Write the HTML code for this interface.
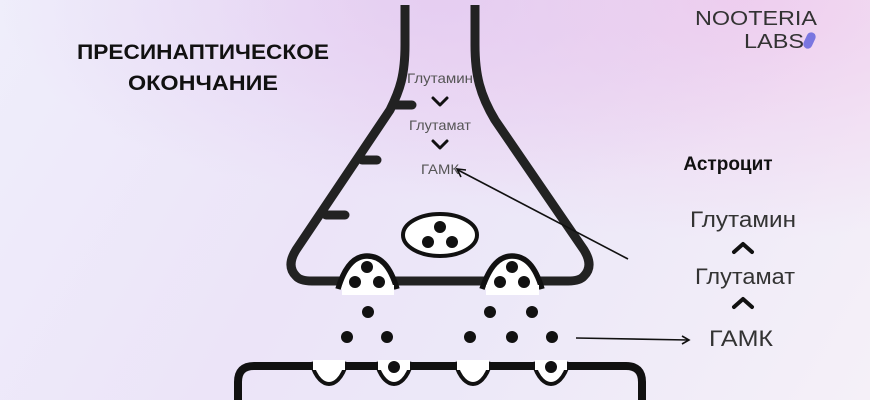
<!DOCTYPE html>
<html><head><meta charset="utf-8"><style>
html,body{margin:0;padding:0;}
body{width:870px;height:400px;overflow:hidden;background:linear-gradient(120deg,#efeefb 0%,#ece4f8 40%,#ece8f8 60%,#f5f0f8 100%);}
svg{position:absolute;left:0;top:0;}
</style></head><body>
<svg width="870" height="400" viewBox="0 0 870 400" xmlns="http://www.w3.org/2000/svg">
<defs>
<radialGradient id="pk" cx="0.85" cy="0" r="0.6">
<stop offset="0" stop-color="#f1c9ec" stop-opacity="0.8"/>
<stop offset="1" stop-color="#f1c9ec" stop-opacity="0"/>
</radialGradient>
<radialGradient id="pk2" cx="0.5" cy="0" r="0.5">
<stop offset="0" stop-color="#e2c8f0" stop-opacity="0.7"/>
<stop offset="1" stop-color="#e2c8f0" stop-opacity="0"/>
</radialGradient>
</defs>
<rect width="870" height="400" fill="url(#pk)"/>
<rect width="870" height="400" fill="url(#pk2)"/>

<g font-family="Liberation Sans, sans-serif">
<text x="203" y="59" font-size="21" font-weight="bold" text-anchor="middle" textLength="252" lengthAdjust="spacingAndGlyphs" fill="#111">ПРЕСИНАПТИЧЕСКОЕ</text>
<text x="203" y="90" font-size="21" font-weight="bold" text-anchor="middle" textLength="150" lengthAdjust="spacingAndGlyphs" fill="#111">ОКОНЧАНИЕ</text>

<text x="817" y="25" font-size="20" text-anchor="end" fill="#333" textLength="122" lengthAdjust="spacingAndGlyphs">NOOTERIA</text>
<text x="804" y="48" font-size="20" text-anchor="end" fill="#333" textLength="60" lengthAdjust="spacingAndGlyphs">LABS</text>
<rect x="805" y="32" width="9" height="17" rx="4.5" fill="#7a76e0" transform="rotate(25 809.5 40.5)"/>

<text x="440" y="83" font-size="14" text-anchor="middle" fill="#555" textLength="66" lengthAdjust="spacingAndGlyphs">Глутамин</text>
<text x="440" y="130" font-size="14" text-anchor="middle" fill="#555" textLength="62" lengthAdjust="spacingAndGlyphs">Глутамат</text>
<text x="440" y="174" font-size="14" text-anchor="middle" fill="#555" textLength="38" lengthAdjust="spacingAndGlyphs">ГАМК</text>

<text x="728" y="170" font-size="19" font-weight="bold" text-anchor="middle" fill="#111">Астроцит</text>
<text x="743" y="227" font-size="22" text-anchor="middle" fill="#333" textLength="106" lengthAdjust="spacingAndGlyphs">Глутамин</text>
<text x="745" y="284" font-size="22" text-anchor="middle" fill="#333" textLength="100" lengthAdjust="spacingAndGlyphs">Глутамат</text>
<text x="741" y="346" font-size="22" text-anchor="middle" fill="#333" textLength="64" lengthAdjust="spacingAndGlyphs">ГАМК</text>
</g>

<g fill="none" stroke="#111" stroke-linecap="round" stroke-linejoin="round">
<polyline points="433,98 440,105 447,98" stroke-width="3"/>
<polyline points="433,141 440,148 447,141" stroke-width="3"/>
<polyline points="734,252 743,244 752,252" stroke-width="4"/>
<polyline points="734,307 743,299 752,307" stroke-width="4"/>
</g>

<g fill="none" stroke="#222" stroke-width="9" stroke-linecap="butt">
<path d="M405,5 L405,45 C405,75 400,90 390,110 L296,250 Q286,266 296,276 Q300,281 312,281 L568,281 Q580,281 584,276 Q594,266 584,250 L495,120 C480,95 475,75 475,45 L475,5"/>
<line x1="393" y1="105" x2="412" y2="105" stroke-linecap="round"/>
<line x1="362" y1="160" x2="377" y2="160" stroke-linecap="round"/>
<line x1="326" y1="215" x2="345" y2="215" stroke-linecap="round"/>
</g>

<ellipse cx="440" cy="235" rx="37" ry="21" fill="#fff" stroke="#111" stroke-width="4"/>
<g fill="#111">
<circle cx="440" cy="227" r="6"/><circle cx="428" cy="242" r="6"/><circle cx="452" cy="242" r="6"/>
</g>

<g stroke="#111" stroke-width="5.5" fill="#fff">
<path d="M338,289 C345,265 355,256 367,256 C380,256 390,265 397,289"/>
<path d="M482,289 C490,265 500,256 512,256 C525,256 535,265 542,289"/>
</g>
<rect x="342" y="285" width="52" height="10" fill="#fff"/>
<rect x="486" y="285" width="53" height="10" fill="#fff"/>
<g fill="#111">
<circle cx="367" cy="267" r="6"/><circle cx="355" cy="282" r="6"/><circle cx="379" cy="282" r="6"/>
<circle cx="512" cy="267" r="6"/><circle cx="500" cy="282" r="6"/><circle cx="524" cy="282" r="6"/>
<circle cx="368" cy="312" r="6"/><circle cx="347" cy="337" r="6"/><circle cx="387" cy="337" r="6"/>
<circle cx="490" cy="312" r="6"/><circle cx="532" cy="312" r="6"/><circle cx="470" cy="337" r="6"/><circle cx="512" cy="337" r="6"/><circle cx="552" cy="337" r="6"/>
</g>

<g stroke="#111" stroke-width="1.6" fill="none">
<line x1="628" y1="259" x2="458" y2="170"/>
<polyline points="466,170 457,169 461,177"/>
<line x1="576" y1="338" x2="688" y2="340"/>
<polyline points="682,336 689,340 682,344"/>
</g>

<path d="M238,400 L238,382 Q238,366 254,366 L626,366 Q642,366 642,382 L642,400" fill="none" stroke="#111" stroke-width="8"/>
<g stroke="#111" stroke-width="4" fill="#fff">
<path d="M311,362 C316,380 324,384 329,384 C334,384 342,380 347,362"/>
<path d="M376,362 C381,380 389,384 394,384 C399,384 407,380 412,362"/>
<path d="M455,362 C460,380 468,384 473,384 C478,384 486,380 491,362"/>
<path d="M533,362 C538,380 546,384 551,384 C556,384 564,380 569,362"/>
</g>
<g fill="#fff">
<rect x="313" y="360" width="32" height="10"/><rect x="378" y="360" width="32" height="10"/>
<rect x="457" y="360" width="32" height="10"/><rect x="535" y="360" width="32" height="10"/>
</g>
<circle cx="394" cy="367" r="6" fill="#111"/>
<circle cx="551" cy="367" r="6" fill="#111"/>
</svg>
</body></html>
